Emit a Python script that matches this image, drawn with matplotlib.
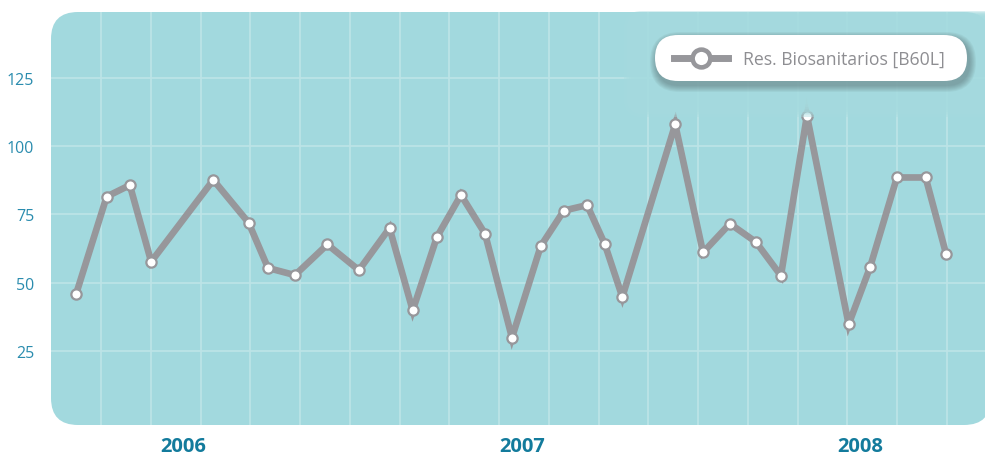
import matplotlib
matplotlib.use("Agg")
import matplotlib.pyplot as plt
import matplotlib.dates as mdates
from matplotlib.patches import FancyBboxPatch
from matplotlib.lines import Line2D
import numpy as np
import pandas as pd

# ---- data ----
series_name = "Res. Biosanitarios [B60L]"
dates = ["2005-09-07", "2005-10-10", "2005-11-04", "2005-11-27", "2006-02-02",
         "2006-03-12", "2006-04-02", "2006-05-01", "2006-06-05", "2006-07-09",
         "2006-08-11", "2006-09-05", "2006-10-01", "2006-10-27", "2006-11-22",
         "2006-12-21", "2007-01-21", "2007-02-15", "2007-03-12", "2007-03-31",
         "2007-04-19", "2007-06-15", "2007-07-15", "2007-08-13", "2007-09-10",
         "2007-10-07", "2007-11-04", "2007-12-19", "2008-01-11", "2008-02-09",
         "2008-03-11", "2008-04-02"]
values = [45.8, 81.5, 85.7, 57.7, 87.6, 72.0, 55.4, 52.8, 64.0, 54.6,
          70.0, 39.9, 66.7, 82.1, 67.9, 29.9, 63.4, 76.4, 78.4, 64.2,
          44.8, 107.9, 61.1, 71.6, 64.9, 52.6, 111.1, 34.8, 55.6, 88.5,
          88.5, 60.6]
y_ticks = [25, 50, 75, 100, 125]
year_labels = ["2006", "2007", "2008"]
year_pos = ["2006-01-01", "2007-01-01", "2008-01-01"]

# ---- style ----
W, H = 985, 456
BG = "#a2d9de"
GLOW = "#a6dbdf"
GRID = "#bde4e7"
LINE = "#97979b"
TICK_C = "#2a8cae"
YEAR_C = "#137b9c"
FONT = "Open Sans"

fig = plt.figure(figsize=(W / 100, H / 100), dpi=100)

# pixel-space background axes
bg = fig.add_axes([0, 0, 1, 1], zorder=0)
bg.set_xlim(0, W)
bg.set_ylim(H, 0)
bg.axis("off")
bg.add_patch(FancyBboxPatch((51, 13), 940, 413,
                            boxstyle="round,pad=0,rounding_size=27",
                            fc=BG, ec="none"))

# main axes
ax = fig.add_axes([51 / W, (H - 426) / H, (W - 51) / W, 413 / H], zorder=1)
ax.patch.set_visible(False)
x = mdates.date2num(pd.to_datetime(dates))
ax.set_xlim(mdates.date2num(pd.Timestamp("2005-08-11")),
            mdates.date2num(pd.Timestamp("2008-05-14")))
ax.set_ylim(-2, 149)

# grid
x0 = mdates.date2num(pd.Timestamp("2005-10-04"))
step = 53.65
vgrid = np.arange(x0, ax.get_xlim()[1], step)
for gx in vgrid:
    ax.axvline(gx, color=GRID, lw=1.2, zorder=1)
for gy in y_ticks:
    ax.axhline(gy, color=GRID, lw=1.2, zorder=1)

ax.plot(x, values, color=LINE, lw=4.8, solid_joinstyle="miter",
        marker="o", ms=7.4, mfc="white", mec=LINE, mew=1.6, zorder=4)

ax.set_yticks(y_ticks)
ax.set_yticklabels([str(v) for v in y_ticks], color=TICK_C, fontsize=11.5,
                   fontfamily=FONT)
ax.set_xticks(mdates.date2num(pd.to_datetime(year_pos)))
ax.set_xticklabels(year_labels, color=YEAR_C, fontsize=14.5,
                   fontweight="bold", fontfamily=FONT)
ax.tick_params(axis="y", length=0, pad=12)
ax.tick_params(axis="x", length=0, pad=8)
for s in ax.spines.values():
    s.set_visible(False)

# overlay for legend (pixel space)
ov = fig.add_axes([0, 0, 1, 1], zorder=3)
ov.set_xlim(0, W)
ov.set_ylim(H, 0)
ov.axis("off")
ov.patch.set_visible(False)
# glow area behind the legend
for i in range(6):
    d = i * 2.5
    ov.add_patch(FancyBboxPatch((624 + d, 12 + d * 0.4), 380 - d, 106 - d * 1.4,
                                boxstyle="round,pad=0,rounding_size=18",
                                fc=GLOW, ec="none", alpha=0.42))
# shadow
for i in range(7):
    e = 7 - i
    ov.add_patch(FancyBboxPatch((655 - e + 2, 36 - e + 4), 312 + 2 * e, 46 + 2 * e,
                                boxstyle="round,pad=0,rounding_size=%g" % (23 + e),
                                fc="#4a5a5c", ec="none", alpha=0.07))
ov.add_patch(FancyBboxPatch((655, 36), 312, 46,
                            boxstyle="round,pad=0,rounding_size=23",
                            fc="white", ec="none"))
ov.add_line(Line2D([674, 728], [59, 59], color=LINE, lw=5))
ov.add_line(Line2D([701], [59], marker="o", ms=12.8, mfc="white", mec=LINE,
                   mew=3.3, color=LINE))
ov.text(743, 59.5, series_name, color="#8e8e92", fontsize=12.7, fontfamily=FONT,
        va="center", ha="left")

fig.savefig("out.png", dpi=100)
